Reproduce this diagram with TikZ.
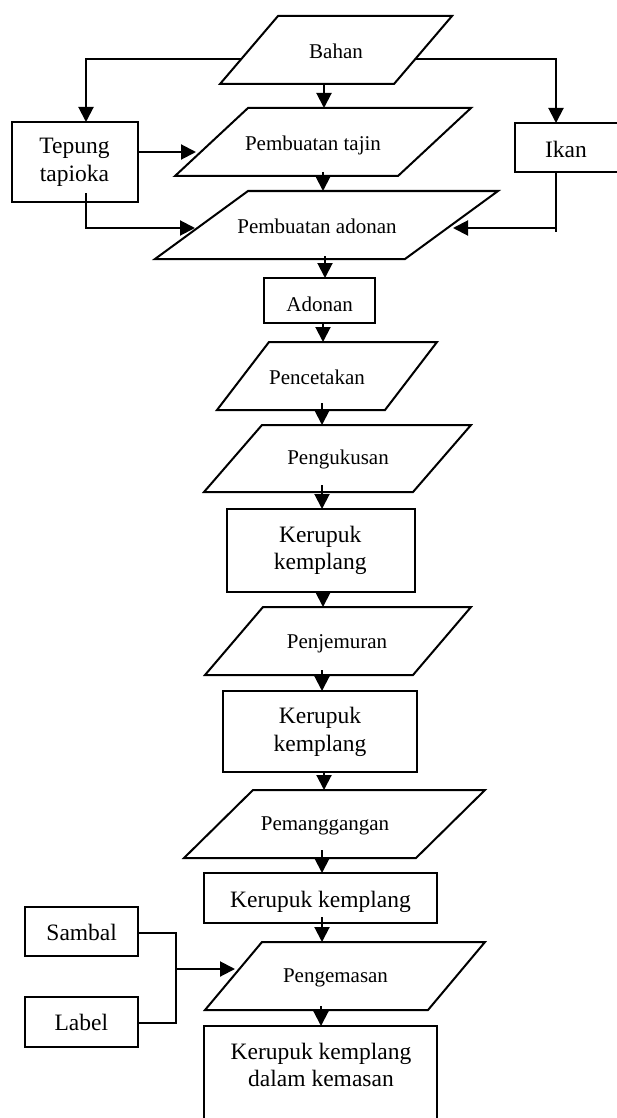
\documentclass[tikz,border=0pt]{standalone}
\usepackage{fontspec}
\setmainfont{Liberation Serif}
\usetikzlibrary{arrows.meta}
\tikzset{
  lw/.style={line width=2pt},
  pgram/.style={lw, line join=miter},
  boxnode/.style={draw, lw, rectangle, inner sep=0pt, outer sep=0pt, anchor=north west},
  small/.style={font=\fontsize{21}{25}\selectfont, inner sep=0pt, anchor=base},
  large/.style={font=\fontsize{23.5}{27}\selectfont, inner sep=0pt, anchor=base},
  conn/.style={lw},
  arr/.style={lw, -{Triangle[length=15pt,width=15pt]}},
}
\begin{document}
\begin{tikzpicture}[x=1pt,y=-1pt]
\useasboundingbox (0,0) rectangle (616,1118);
\fill[white] (0,0) rectangle (616,1118);

% ---------- process parallelograms ----------
\draw[pgram] (278,16) -- (452,16) -- (394,84) -- (220,84) -- cycle;
\node[small] (bahan) at (336,58.3) {Bahan};

\draw[pgram] (248,108) -- (471,108) -- (398,176) -- (175,176) -- cycle;
\node[small] (tajin) at (313,151) {Pembuatan tajin};

\draw[pgram] (248,191) -- (498,191) -- (405,259) -- (155,259) -- cycle;
\node[small] (proc) at (317,233) {Pembuatan adonan};

\draw[pgram] (269,342) -- (437,342) -- (385,410) -- (217,410) -- cycle;
\node[small] (cetak) at (317,384) {Pencetakan};

\draw[pgram] (262,425) -- (471,425) -- (413,492) -- (204,492) -- cycle;
\node[small] (kukus) at (338,464) {Pengukusan};

\draw[pgram] (263,607) -- (471,607) -- (413,675) -- (205,675) -- cycle;
\node[small] (jemur) at (337,648) {Penjemuran};

\draw[pgram] (253,790) -- (485,790) -- (416,858) -- (184,858) -- cycle;
\node[small] (panggang) at (325,830.7) {Pemanggangan};

\draw[pgram] (262,942) -- (485,942) -- (428,1010) -- (205,1010) -- cycle;
\node[small] (kemas) at (335.5,982.7) {Pengemasan};

% ---------- boxes ----------
\node[boxnode, minimum width=126pt, minimum height=80pt] (tepung) at (12,122) {};
\node[large] (tepung1) at (74.5,153.3) {Tepung};
\node[large] (tepung2) at (74.5,181.7) {tapioka};

\node[boxnode, minimum width=103pt, minimum height=49pt] (ikan) at (515,123) {};
\node[large] (ikant) at (566,157.3) {Ikan};

\node[boxnode, minimum width=111pt, minimum height=45pt] (adonan) at (264,278) {};
\node[small] (adonant) at (319.7,311) {Adonan};

\node[boxnode, minimum width=188pt, minimum height=83pt] (kk1) at (227,509) {};
\node[large] (kk1a) at (320.2,542.7) {Kerupuk};
\node[large] (kk1b) at (320.2,569.5) {kemplang};

\node[boxnode, minimum width=194pt, minimum height=81pt] (kk2) at (223,691) {};
\node[large] (kk2a) at (320,723.3) {Kerupuk};
\node[large] (kk2b) at (320,751) {kemplang};

\node[boxnode, minimum width=233pt, minimum height=50pt] (kk3) at (204,873) {};
\node[large] (kk3t) at (320.5,907.7) {Kerupuk kemplang};

\node[boxnode, minimum width=233pt, minimum height=110pt] (kk4) at (204,1026) {};
\node[large] (kk4a) at (321,1059) {Kerupuk kemplang};
\node[large] (kk4b) at (321,1086.7) {dalam kemasan};

\node[boxnode, minimum width=113pt, minimum height=49pt] (sambal) at (25,907) {};
\node[large] (sambalt) at (81.7,940) {Sambal};

\node[boxnode, minimum width=113pt, minimum height=50pt] (label) at (25,997) {};
\node[large] (labelt) at (81.3,1030) {Label};

% ---------- connector end points ----------
\coordinate (bahanL) at (241,59);
\coordinate (bahanR) at (415,59);
\coordinate (bahanB) at (324,84);
\coordinate (tepungT) at (86,122);
\coordinate (ikanT) at (556,123);
\coordinate (tajinT) at (324,108);
\coordinate (tepungR) at (138,152);
\coordinate (tajinL) at (196,152);
\coordinate (tajinB) at (323,172);
\coordinate (procT) at (323,191);
\coordinate (tepungB) at (86,193);
\coordinate (procL) at (195,228);
\coordinate (ikanB) at (556,172);
\coordinate (ikanE) at (556,232);
\coordinate (ikanJ) at (556,228);
\coordinate (procR) at (453,228);
\coordinate (procB) at (325,256);
\coordinate (adonanT) at (325,278);
\coordinate (adonanB) at (323,323);
\coordinate (cetakT) at (323,342);
\coordinate (cetakB) at (322,403);
\coordinate (kukusT) at (322,425);
\coordinate (kukusB) at (322,485);
\coordinate (kk1T) at (322,509);
\coordinate (kk1B) at (323,592);
\coordinate (jemurT) at (323,607);
\coordinate (jemurB) at (322,670);
\coordinate (kk2T) at (322,691);
\coordinate (kk2B) at (324,772);
\coordinate (panggangT) at (324,790);
\coordinate (panggangB) at (322,850);
\coordinate (kk3T) at (322,873);
\coordinate (kk3B) at (322,917);
\coordinate (kemasT) at (322,942);
\coordinate (kemasB) at (321,1006);
\coordinate (kk4T) at (321,1026);
\coordinate (sambalR) at (138,933);
\coordinate (jTop) at (176,933);
\coordinate (jBot) at (176,1023);
\coordinate (labelR) at (138,1023);
\coordinate (jMid) at (176,969);
\coordinate (kemasL) at (235,969);

% ---------- connectors ----------
\draw[arr] (bahanL) -| (tepungT);
\draw[arr] (bahanR) -| (ikanT);
\draw[arr] (bahanB) -- (tajinT);
\draw[arr] (tepungR) -- (tajinL);
\draw[arr] (tajinB) -- (procT);
\draw[arr] (tepungB) |- (procL);
\draw[conn] (ikanB) -- (ikanE);
\draw[arr] (ikanJ) -- (procR);
\draw[arr] (procB) -- (adonanT);
\draw[arr] (adonanB) -- (cetakT);
\draw[arr] (cetakB) -- (kukusT);
\draw[arr] (kukusB) -- (kk1T);
\draw[arr] (kk1B) -- (jemurT);
\draw[arr] (jemurB) -- (kk2T);
\draw[arr] (kk2B) -- (panggangT);
\draw[arr] (panggangB) -- (kk3T);
\draw[arr] (kk3B) -- (kemasT);
\draw[arr] (kemasB) -- (kk4T);
\draw[conn] (sambalR) -- (jTop) -- (jBot) -- (labelR);
\draw[arr] (jMid) -- (kemasL);
\end{tikzpicture}
\end{document}
